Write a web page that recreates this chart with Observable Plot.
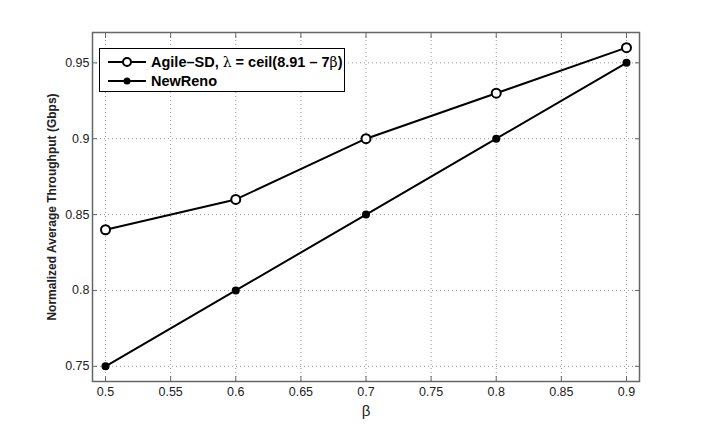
<!DOCTYPE html>
<html>
<head>
<meta charset="utf-8">
<script src="https://cdn.jsdelivr.net/npm/d3@7"></script>
<script src="https://cdn.jsdelivr.net/npm/@observablehq/plot@0.6"></script>
<style>
  body { margin: 0; background: #fff; }
  #wrap { position: relative; width: 706px; height: 429px; font-family: "Liberation Sans", Arial, sans-serif; }
  #wrap svg { font-family: "Liberation Sans", Arial, sans-serif; }
  #legend { position: absolute; left: 99px; top: 48px; width: 246px; height: 44px; border: 1px solid #000; background: #fff; box-sizing: border-box; }
  .row { position: absolute; left: 0; height: 20px; display: flex; align-items: center; }
  .row svg { display: block; }
  .row span { font-weight: bold; font-size: 14.5px; color: #000; margin-left: 5px; white-space: nowrap; }
  .row span i { font-style: normal; font-weight: normal; font-family: "DejaVu Serif", serif; font-size: 14px; }
</style>
</head>
<body>
<div id="wrap"></div>
<script>
const beta = [0.5, 0.6, 0.7, 0.8, 0.9];
const agileSD = [0.84, 0.86, 0.90, 0.93, 0.96];
const newReno = [0.75, 0.80, 0.85, 0.90, 0.95];
const seriesNames = ["Agile\u2013SD", "NewReno"];
const xTicks = [0.5, 0.55, 0.6, 0.65, 0.7, 0.75, 0.8, 0.85, 0.9];
const xTickLabels = ["0.5", "0.55", "0.6", "0.65", "0.7", "0.75", "0.8", "0.85", "0.9"];
const yTicks = [0.75, 0.8, 0.85, 0.9, 0.95];
const yTickLabels = ["0.75", "0.8", "0.85", "0.9", "0.95"];
const xLabel = "\u03b2";
const yLabel = "Normalized Average Throughput (Gbps)";

const agileData = beta.map((b, i) => ({b, v: agileSD[i]}));
const renoData = beta.map((b, i) => ({b, v: newReno[i]}));

const axisColor = "#666";
const chart = Plot.plot({
  width: 706,
  height: 429,
  marginLeft: 92,
  marginRight: 67,
  marginTop: 32,
  marginBottom: 48,
  style: {fontSize: "12px", color: "#222", background: "#fff"},
  x: {domain: [0.49, 0.91]},
  y: {domain: [0.74, 0.97]},
  marks: [
    Plot.gridX(xTicks, {stroke: "#999", strokeOpacity: 1, strokeDasharray: "1,3"}),
    Plot.gridY(yTicks, {stroke: "#999", strokeOpacity: 1, strokeDasharray: "1,3"}),
    Plot.axisX(xTicks, {anchor: "bottom", tickSize: -5, tickPadding: 11, stroke: axisColor, fontSize: 12.5, tickFormat: (d, i) => xTickLabels[i], label: null}),
    Plot.axisX(xTicks, {anchor: "top", tickSize: -5, stroke: axisColor, tickFormat: () => "", label: null}),
    Plot.axisY(yTicks, {anchor: "left", tickSize: -5, tickPadding: 8, stroke: axisColor, fontSize: 12.5, tickFormat: (d, i) => yTickLabels[i], label: null}),
    Plot.axisY(yTicks, {anchor: "right", tickSize: -5, stroke: axisColor, tickFormat: () => "", label: null}),
    Plot.axisX([], {anchor: "bottom", label: xLabel, labelAnchor: "center", labelOffset: 34, labelArrow: "none", fontSize: 15}),
    Plot.axisY([], {anchor: "left", label: yLabel, labelAnchor: "center", labelOffset: 45, labelArrow: "none", fontSize: 12, fontWeight: "bold"}),
    Plot.frame({stroke: axisColor, strokeWidth: 1.5}),
    Plot.line(agileData, {x: "b", y: "v", stroke: "#000", strokeWidth: 2}),
    Plot.line(renoData, {x: "b", y: "v", stroke: "#000", strokeWidth: 2}),
    Plot.dot(agileData, {x: "b", y: "v", r: 4.5, stroke: "#000", strokeWidth: 2, fill: "#fff"}),
    Plot.dot(renoData, {x: "b", y: "v", r: 4, fill: "#000", stroke: "none"})
  ]
});
const wrap = document.getElementById("wrap");
wrap.appendChild(chart);

const legend = document.createElement("div");
legend.id = "legend";
const sym = (open) => `<svg width="46" height="20"><line x1="8" y1="10" x2="46" y2="10" stroke="#000" stroke-width="2"/>${open ? '<circle cx="27" cy="10" r="4" fill="#fff" stroke="#000" stroke-width="2"/>' : '<circle cx="27" cy="10" r="3.5" fill="#000"/>'}</svg>`;
legend.innerHTML =
  `<div class="row" style="top:3px">${sym(true)}<span>${seriesNames[0]}, <i>\u03bb</i> = ceil(8.91 \u2013 7<i>\u03b2</i>)</span></div>` +
  `<div class="row" style="top:22px">${sym(false)}<span>${seriesNames[1]}</span></div>`;
wrap.appendChild(legend);
</script>
</body>
</html>
